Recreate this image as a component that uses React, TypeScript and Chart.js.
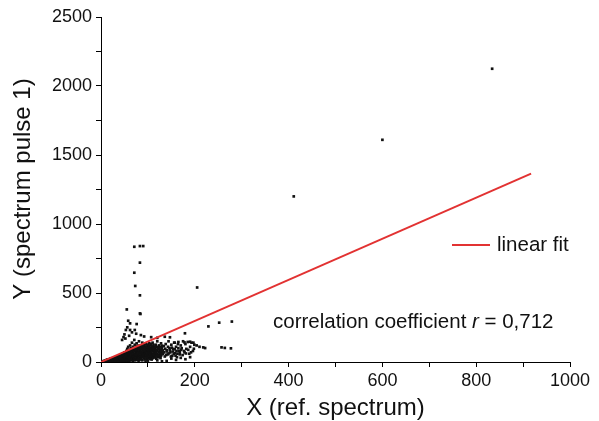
import React, { useEffect, useRef } from "react";
import { Chart, registerables } from "chart.js";

Chart.register(...registerables);

// Scatter data: X (ref. spectrum) vs Y (spectrum pulse 1)
const scatterX = [
  3, 5, 6, 8, 9, 10, 11, 12, 13, 14, 15, 16, 17, 18, 19, 20, 21, 22, 23, 24, 25, 26, 27, 28, 29, 30, 31, 32, 33, 34, 35, 36, 37, 38, 39, 40,
  41, 42, 43, 44, 45, 45, 46, 47, 48, 49, 50, 50, 51, 52, 53, 54, 54, 55, 56, 56, 57, 58, 58, 59, 60, 60, 61, 62, 62, 63, 64, 64, 65, 66, 66, 67, 68, 68, 69, 70, 70, 71, 72, 72, 73, 74, 74, 75, 76, 76, 77, 78, 78, 79, 80, 80,
  81, 82, 83, 84, 84, 85, 86, 87, 88, 88, 89, 90, 91, 92, 93, 94, 95, 96, 97, 98, 99, 100, 101, 102, 103, 104, 105, 106, 107, 108, 109, 110, 111, 112, 113, 114, 115, 116, 117, 118, 119, 120, 121, 122, 123, 124, 125, 126, 127, 128, 129, 130,
  132, 134, 136, 138, 140, 142, 144, 146, 148, 150, 152, 154, 156, 158, 160, 162, 164, 166, 168, 170, 172, 175, 178, 180, 182, 185, 188, 190, 193, 196, 199, 204, 210, 222,
  197, 157, 165, 178, 190, 107, 120, 136, 147, 179,
  60, 80, 100, 120, 140, 160, 180, 95, 130, 150, 170, 190,
  71, 83, 90, 83, 71, 73, 83, 55, 83, 58, 62, 76, 53, 62, 72, 84, 56, 50, 48, 60, 66, 75, 85, 92, 45, 52,
  205, 229, 252, 279, 257, 264, 277, 218, 411, 600, 834,
  10, 12, 14, 15, 17, 18, 19, 21, 22, 23, 24, 25, 26, 27, 28, 29, 30, 30,
  31, 32, 33, 33, 34, 35, 36, 36, 37, 38, 38, 39, 40, 40, 41, 41, 42, 43, 43, 44, 44, 45, 46, 46, 47, 47, 48, 48, 49, 49, 50, 50,
  51, 51, 52, 52, 53, 53, 54, 54, 55, 55, 56, 56, 57, 57, 58, 58, 59, 59, 60, 60, 61, 61, 62, 62, 63, 63, 64, 64, 65, 65, 66, 66, 67, 67, 68, 68, 69, 69, 70, 70,
  71, 71, 72, 72, 73, 73, 74, 74, 75, 75, 76, 76, 77, 77, 78, 78, 79, 79, 80, 80, 81, 81, 82, 82, 83, 83, 84, 84, 85, 85, 86, 86, 87, 87, 88, 88, 89, 89, 90, 90,
  91, 91, 92, 92, 93, 93, 94, 94, 95, 95, 96, 96, 97, 97, 98, 98, 99, 99, 100, 100, 101, 101, 102, 102, 103, 103, 104, 104, 105, 105, 106, 106, 107, 107, 108, 108, 109, 109, 110, 110,
  111, 111, 112, 112, 113, 114, 114, 115, 116, 116, 117, 118, 118, 119, 120, 120, 121, 122, 123, 124, 125, 125, 126, 127, 128, 129, 130, 130,
  132, 135, 137, 139, 141, 143, 145, 147, 149, 151, 153, 155, 157, 159, 161, 163, 165, 168, 171, 174, 177, 181, 186, 192, 198
];
const scatterY = [
  2, 6, 3, 10, 5, 12, 4, 15, 8, 18, 11, 6, 20, 14, 9, 24, 17, 12, 27, 7, 20, 30, 14, 24, 33, 10, 28, 19, 36, 12, 25, 40, 30, 16, 43, 22,
  35, 47, 28, 52, 18, 40, 60, 33, 55, 25, 70, 45, 15, 62, 38, 80, 50, 28, 95, 66, 42, 110, 75, 20, 58, 88, 35, 120, 70, 48, 100, 25, 85, 55, 140, 40, 75, 110, 30, 95, 60, 160, 45, 125, 80, 20, 105, 65, 135, 38, 90, 115, 52, 28, 100, 70,
  150, 42, 85, 120, 60, 30, 105, 75, 140, 50, 95, 35, 125, 65, 110, 45, 85, 130, 25, 100, 70, 115, 50, 90, 135, 38, 75, 120, 58, 100, 30, 140, 80, 45, 110, 65, 95, 35, 125, 55, 85, 150, 40, 105, 70, 120, 50, 90, 28, 135, 75, 100,
  60, 115, 40, 130, 85, 55, 150, 100, 70, 125, 45, 95, 140, 65, 110, 35, 130, 80, 55, 120, 100, 150, 70, 130, 95, 145, 60, 110, 140, 80, 125, 120, 110, 101,
  140, 140, 145, 142, 147, 180, 175, 183, 179, 208,
  5, 8, 10, 12, 8, 15, 20, 3, 5, 25, 30, 35,
  835, 840, 840, 720, 647, 551, 483, 381, 352, 299, 280, 275, 232, 232, 232, 348, 251, 200, 180, 190, 215, 205, 195, 185, 160, 170,
  540, 258, 285, 293, 106, 102, 99, 106, 1200, 1610, 2125,
  3, 9, 4, 14, 8, 3, 16, 6, 20, 10, 15, 4, 22, 9, 18, 5, 26, 15,
  7, 30, 20, 4, 26, 14, 34, 8, 21, 38, 28, 6, 32, 13, 42, 24, 9, 38, 18, 30, 5, 46, 24, 12, 50, 40, 20, 8, 44, 34, 28, 10,
  52, 38, 22, 6, 58, 46, 32, 14, 62, 40, 24, 8, 70, 54, 34, 16, 66, 46, 28, 10, 76, 52, 38, 18, 82, 60, 44, 12, 70, 32, 90, 20, 62, 48, 8, 36, 84, 56, 42, 16,
  78, 26, 92, 60, 36, 12, 84, 50, 100, 28, 70, 16, 56, 108, 40, 84, 22, 66, 95, 48, 32, 118, 74, 14, 58, 100, 40, 86, 68, 20, 120, 50, 92, 36, 72, 12, 110, 58, 82, 44,
  28, 96, 54, 120, 76, 18, 104, 62, 40, 130, 80, 52, 112, 34, 66, 90, 46, 16, 126, 84, 62, 30, 104, 74, 42, 118, 88, 56, 22, 100, 70, 40, 130, 86, 54, 18, 112, 76, 44, 96,
  60, 28, 124, 88, 50, 78, 34, 106, 64, 46, 90, 72, 24, 110, 58, 84, 36, 96, 52, 76, 108, 34, 64, 88, 46, 72, 56, 118,
  84, 70, 96, 50, 76, 110, 62, 88, 40, 104, 76, 58, 92, 46, 80, 60, 100, 70, 88, 50, 80, 62, 88, 70, 96
];

// Linear fit endpoints
const fitX = [0, 917];
const fitY = [0, 1365];

const xTickLabels = [0, 200, 400, 600, 800, 1000];
const yTickLabels = [0, 500, 1000, 1500, 2000, 2500];

const legendLabel = "linear fit";
const annotationPrefix = "correlation coefficient ";
const annotationVar = "r";
const annotationSuffix = " = 0,712";
const xTitle = "X (ref. spectrum)";
const yTitle = "Y (spectrum pulse 1)";

const RED = "#e23232";
const FONT = "'Liberation Sans', Arial, sans-serif";

const overlayPlugin = {
  id: "overlay",
  afterDraw(chart: any) {
    const ctx = chart.ctx;
    ctx.save();
    // legend
    ctx.strokeStyle = RED;
    ctx.lineWidth = 2;
    ctx.beginPath();
    ctx.moveTo(452, 245);
    ctx.lineTo(490, 245);
    ctx.stroke();
    ctx.fillStyle = "#111";
    ctx.textBaseline = "middle";
    ctx.textAlign = "left";
    ctx.font = `20.5px ${FONT}`;
    ctx.fillText(legendLabel, 497, 245);
    // annotation
    let x = 273;
    const y = 322;
    ctx.font = `20.5px ${FONT}`;
    ctx.fillText(annotationPrefix, x, y);
    x += ctx.measureText(annotationPrefix).width;
    ctx.font = `italic 20.5px ${FONT}`;
    ctx.fillText(annotationVar, x, y);
    x += ctx.measureText(annotationVar).width;
    ctx.font = `20.5px ${FONT}`;
    ctx.fillText(annotationSuffix, x, y);
    // y title
    ctx.translate(23, 189);
    ctx.rotate(-Math.PI / 2);
    ctx.textAlign = "center";
    ctx.font = `24px ${FONT}`;
    ctx.fillText(yTitle, 0, 0);
    ctx.restore();
  },
};

export default function App() {
  const ref = useRef<HTMLCanvasElement>(null);

  useEffect(() => {
    if (!ref.current) return;
    const scatterData = scatterX.map((x, i) => ({ x, y: scatterY[i] }));
    const fitData = fitX.map((x, i) => ({ x, y: fitY[i] }));
    const chart = new Chart(ref.current, {
      type: "scatter",
      data: {
        datasets: [
          {
            label: "data",
            data: scatterData,
            pointStyle: "rect",
            pointRadius: 1.9,
            pointBorderWidth: 0,
            backgroundColor: "#111",
            borderColor: "#111",
            order: 2,
          },
          {
            label: legendLabel,
            type: "line",
            data: fitData,
            borderColor: RED,
            borderWidth: 2,
            pointRadius: 0,
            fill: false,
            order: 1,
          } as any,
        ],
      },
      options: {
        responsive: false,
        animation: false,
        layout: { padding: { left: 0, right: 29, top: 17, bottom: 0 } },
        plugins: {
          legend: { display: false },
          tooltip: { enabled: false },
        },
        scales: {
          x: {
            type: "linear",
            min: 0,
            max: 1000,
            border: { color: "#000", width: 1 },
            grid: { drawOnChartArea: false, tickLength: 5, color: "#000" },
            ticks: {
              stepSize: 100,
              autoSkip: false,
              maxRotation: 0,
              padding: 3,
              color: "#111",
              font: { family: FONT, size: 18 },
              callback: (v: any) => (xTickLabels.includes(Number(v)) ? String(v) : ""),
            },
            title: {
              display: true,
              text: xTitle,
              color: "#111",
              font: { family: FONT, size: 24, lineHeight: 1 },
              padding: { top: 1, bottom: 1 },
            },
            afterFit: (s: any) => {
              s.height = 59;
            },
          },
          y: {
            type: "linear",
            min: 0,
            max: 2500,
            border: { color: "#000", width: 1 },
            grid: { drawOnChartArea: false, tickLength: 5, color: "#000" },
            ticks: {
              stepSize: 250,
              autoSkip: false,
              padding: 4,
              color: "#111",
              font: { family: FONT, size: 18 },
              callback: (v: any) => (yTickLabels.includes(Number(v)) ? String(v) : ""),
            },
            afterFit: (s: any) => {
              s.width = 101;
            },
          },
        },
      },
      plugins: [overlayPlugin],
    });
    return () => chart.destroy();
  }, []);

  return (
    <div style={{ position: "absolute", left: 0, top: 0, width: 599, height: 421, background: "#fff" }}>
      <canvas ref={ref} width={599} height={421} />
    </div>
  );
}
